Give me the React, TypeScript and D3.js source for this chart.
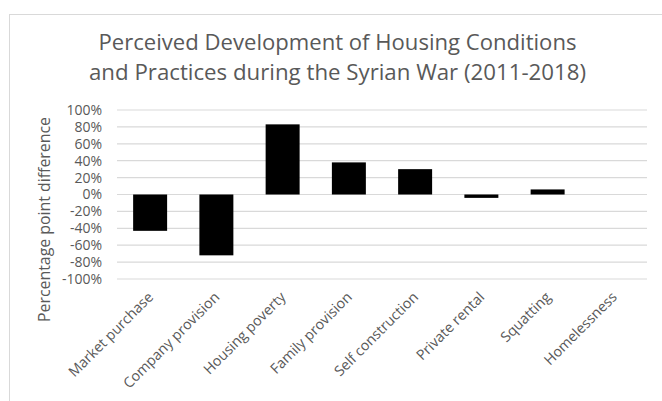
import React from "react";
import * as d3 from "d3";

const categories = [
  "Market purchase",
  "Company provision",
  "Housing poverty",
  "Family provision",
  "Self construction",
  "Private rental",
  "Squatting",
  "Homelessness",
];
const values = [-43, -72, 83, 38, 30, -4, 6, 0];
const yTicks = [100, 80, 60, 40, 20, 0, -20, -40, -60, -80, -100];
const titleLines = [
  "Perceived Development of Housing Conditions",
  "and Practices during the Syrian War (2011-2018)",
];
const yTitle = "Percentage point difference";

const W = 662;
const H = 401;
const FONT = "'Open Sans', 'Noto Sans', sans-serif";
const TEXT = "#595959";
const GRID = "#d9d9d9";

export default function App() {
  const x = d3
    .scaleBand<string>()
    .domain(categories)
    .range([117, 647])
    .paddingInner(0.487)
    .paddingOuter(0.2435);
  const y = d3.scaleLinear().domain([-100, 100]).range([279, 110]);

  return (
    <svg
      width={W}
      height={H}
      style={{ position: "absolute", left: 0, top: 0, background: "#fff" }}
      fontFamily={FONT}
    >
      <rect x={0} y={0} width={W} height={H} fill="#fff" />
      <rect x={9.5} y={14.5} width={W + 20} height={H + 20} fill="#fff" stroke={GRID} strokeWidth={1} />
      {titleLines.map((t, i) => (
        <text
          key={t}
          x={337.5}
          y={49.5 + i * 30}
          textAnchor="middle"
          fontSize={21}
          fill={TEXT}
          textLength={i === 0 ? 478 : 497}
          lengthAdjust="spacingAndGlyphs"
        >
          {t}
        </text>
      ))}
      {yTicks.map((t) => (
        <g key={t}>
          <line x1={117} x2={647} y1={y(t)} y2={y(t)} stroke={GRID} strokeWidth={1.2} />
          <text
            x={102}
            y={y(t)}
            dy="0.35em"
            textAnchor="end"
            fontSize={14}
            fill={TEXT}
          >
            {t}%
          </text>
        </g>
      ))}
      {categories.map((c, i) => {
        const v = values[i];
        const y0 = y(Math.max(0, v));
        const y1 = y(Math.min(0, v));
        return (
          <rect
            key={c}
            x={x(c)}
            y={y0}
            width={x.bandwidth()}
            height={Math.max(0, y1 - y0)}
            fill="#000"
          />
        );
      })}
      {categories.map((c) => {
        const cx = (x(c) as number) + x.bandwidth() / 2 + 4;
        return (
          <text
            key={c}
            transform={`translate(${cx},298) rotate(-45)`}
            textAnchor="end"
            fontSize={14.3}
            fill={TEXT}
          >
            {c}
          </text>
        );
      })}
      <text
        transform="translate(50,219.5) rotate(-90)"
        textAnchor="middle"
        fontSize={15.5}
        fill={TEXT}
        textLength={205}
        lengthAdjust="spacingAndGlyphs"
      >
        {yTitle}
      </text>
    </svg>
  );
}
